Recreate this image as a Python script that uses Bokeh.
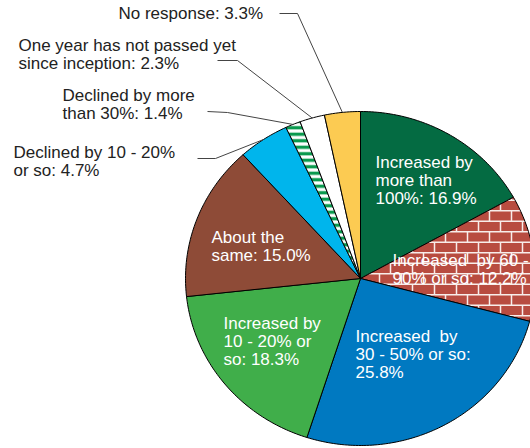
import math
import base64
from bokeh.plotting import figure
from bokeh.models import Range1d, ImageURLTexture
from bokeh.embed import file_html
from bokeh.resources import INLINE
from bokeh.core.properties import value

# ---- data ----
categories = [
    "Increased by more than 100%",
    "Increased by 60 - 90% or so",
    "Increased by 30 - 50% or so",
    "Increased by 10 - 20% or so",
    "About the same",
    "Declined by 10 - 20% or so",
    "Declined by more than 30%",
    "One year has not passed yet since inception",
    "No response",
]
shares = [16.9, 12.2, 25.8, 18.3, 15.0, 4.7, 1.4, 2.3, 3.3]
label_texts = [
    "Increased by\nmore than\n100%: 16.9%",
    "Increased\u00a0 by 60 -\n90% or so: 12.2%",
    "Increased\u00a0 by\n30 - 50% or so:\n25.8%",
    "Increased by\n10 - 20% or\nso: 18.3%",
    "About the\nsame: 15.0%",
    "Declined by 10 - 20%\nor so: 4.7%",
    "Declined by more\nthan 30%: 1.4%",
    "One year has not passed yet\nsince inception: 2.3%",
    "No response: 3.3%",
]

# ---- styles / layout ----
fill_colors = ["#046B42", "#B84C40", "#0079C1", "#40AE4A", "#8E4B37",
               "#00B5EC", "#FFFFFF", "#FFFFFF", "#FCCB52"]
hatches = [None, "brick", None, None, None, None, "-", None, None]
inside = [True, True, True, True, True, False, False, False, False]
label_pos = [(375, 152.5), (392, 250.5), (355, 326.5), (223, 313.5), (211, 227.5),
             (13, 142.5), (62, 85.5), (18, 35.5), (118, 3.5)]
elbows = {5: [(197, 158), (215, 158)], 6: [(207, 111), (227, 112)],
          7: [(217, 60), (237, 60)], 8: [(279, 13), (297, 13)]}
cx, cy, rx, ry = 360, 278, 175, 167

W, H = 530, 448
p = figure(width=W, height=H, output_backend="svg", toolbar_location=None,
           x_range=Range1d(0, W), y_range=Range1d(H, 0), min_border=0)
p.axis.visible = False
p.grid.visible = False
p.outline_line_color = None
p.background_fill_color = "white"

brick_svg = ("<svg xmlns='http://www.w3.org/2000/svg' width='22' height='21'>"
             "<rect width='22' height='21' fill='#B84C40'/>"
             "<path d='M0 0.75H22M0 11.25H22M5.5 0V10.5M16.5 10.5V21' stroke='#F8EDEA' stroke-width='1.5'/>"
             "</svg>")
brick_url = "data:image/svg+xml;base64," + base64.b64encode(brick_svg.encode()).decode()
brick_tex = ImageURLTexture(url=brick_url, repetition="repeat")

total = sum(shares)


def pt(theta, f=1.0):
    return cx + f * rx * math.sin(theta), cy - f * ry * math.cos(theta)


cum = 0.0
mids = []
for i, s in enumerate(shares):
    a0 = 2 * math.pi * cum / total
    a1 = 2 * math.pi * (cum + s) / total
    mids.append((a0 + a1) / 2)
    n = max(4, int(s * 4))
    xs, ys = [cx], [cy]
    for k in range(n + 1):
        x, y = pt(a0 + (a1 - a0) * k / n)
        xs.append(x)
        ys.append(y)
    kw = dict(fill_color=fill_colors[i], line_color="black", line_width=1)
    if hatches[i] == "brick":
        kw.update(hatch_pattern="brick", hatch_extra={"brick": brick_tex})
    elif hatches[i] == "-":
        kw.update(hatch_pattern="-", hatch_color="#0A9A4E", hatch_scale=6.5, hatch_weight=3.3)
    p.patch(xs, ys, **kw)
    cum += s

# leader lines
for i, pts in elbows.items():
    ex, ey = pt(mids[i], 1.0)
    lx = [q[0] for q in pts] + [ex]
    ly = [q[1] for q in pts] + [ey]
    p.line(lx, ly, line_color="#444444", line_width=1)

# labels
for i, t in enumerate(label_texts):
    x, y = label_pos[i]
    p.text(x=[x], y=[y], text=[t], text_font=value("Liberation Sans"),
           text_font_size="17px", text_baseline="top", text_align="left",
           text_line_height=0.96,
           text_color="white" if inside[i] else "#222222")

open("out.html", "w").write(file_html(p, INLINE))
